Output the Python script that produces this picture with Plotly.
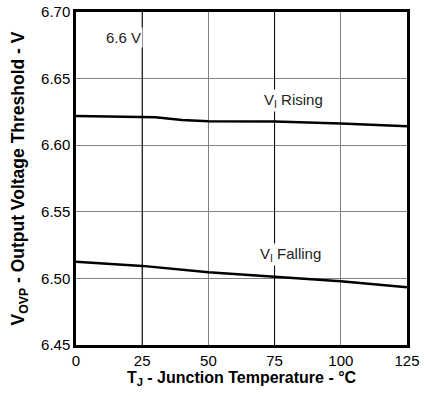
import plotly.graph_objects as go

rising_t = [0, 10, 30, 40, 50, 75, 90, 100, 125]
rising_v = [6.622, 6.6215, 6.621, 6.619, 6.618, 6.6178, 6.617, 6.6163, 6.6143]
falling_t = [0, 25, 50, 75, 100, 125]
falling_v = [6.5125, 6.5094, 6.5047, 6.5014, 6.4979, 6.4934]
x_ticks = [0, 25, 50, 75, 100, 125]
y_ticks = [6.45, 6.50, 6.55, 6.60, 6.65, 6.70]

font = "Liberation Sans, Arial, sans-serif"
fig = go.Figure()
fig.add_trace(go.Scatter(x=rising_t, y=rising_v, mode="lines",
                         line=dict(color="black", width=2.5), showlegend=False))
fig.add_trace(go.Scatter(x=falling_t, y=falling_v, mode="lines",
                         line=dict(color="black", width=2.5), showlegend=False))

# black vertical gridlines at 25 and 75
for xv in [25, 75]:
    fig.add_shape(type="line", xref="x", yref="paper", x0=xv, x1=xv, y0=0, y1=1,
                  line=dict(color="black", width=1), layer="above")

ann = dict(showarrow=False, font=dict(family=font, size=15, color="#222"),
           bgcolor="white", borderpad=1)
fig.add_annotation(x=18, y=6.681, text="6.6 V", **ann)
fig.add_annotation(x=82, y=6.6335, text="V<sub>I</sub> Rising", **ann)
fig.add_annotation(x=81, y=6.518, text="V<sub>I</sub> Falling", **ann)

fig.update_layout(
    width=424, height=396,
    margin=dict(l=76, r=17, t=12, b=51),
    paper_bgcolor="white", plot_bgcolor="white",
    font=dict(family=font, size=15, color="black"),
)
fig.update_xaxes(range=[0, 125], tickvals=x_ticks, ticktext=[str(v) for v in x_ticks],
                 showgrid=True, gridcolor="#808080", gridwidth=1, automargin=False,
                 showline=True, linecolor="black", linewidth=2.5, mirror=True,
                 ticks="", zeroline=False, tickfont=dict(size=15),
                 title=dict(text="<b>T<sub>J</sub> - Junction Temperature - °C</b>",
                            font=dict(size=16), standoff=4))
fig.update_yaxes(range=[6.45, 6.70], tickvals=y_ticks, ticktext=[f"{v:.2f}" for v in y_ticks],
                 showgrid=True, gridcolor="#808080", gridwidth=1, automargin=False,
                 showline=True,
                 linecolor="black", linewidth=2.5, mirror=True,
                 ticks="", zeroline=False, tickfont=dict(size=15),
                 title=dict(text="<b>V<sub>OVP</sub> - Output Voltage Threshold - V</b>",
                            font=dict(size=17.5), standoff=12))
fig.write_html("out.html")
